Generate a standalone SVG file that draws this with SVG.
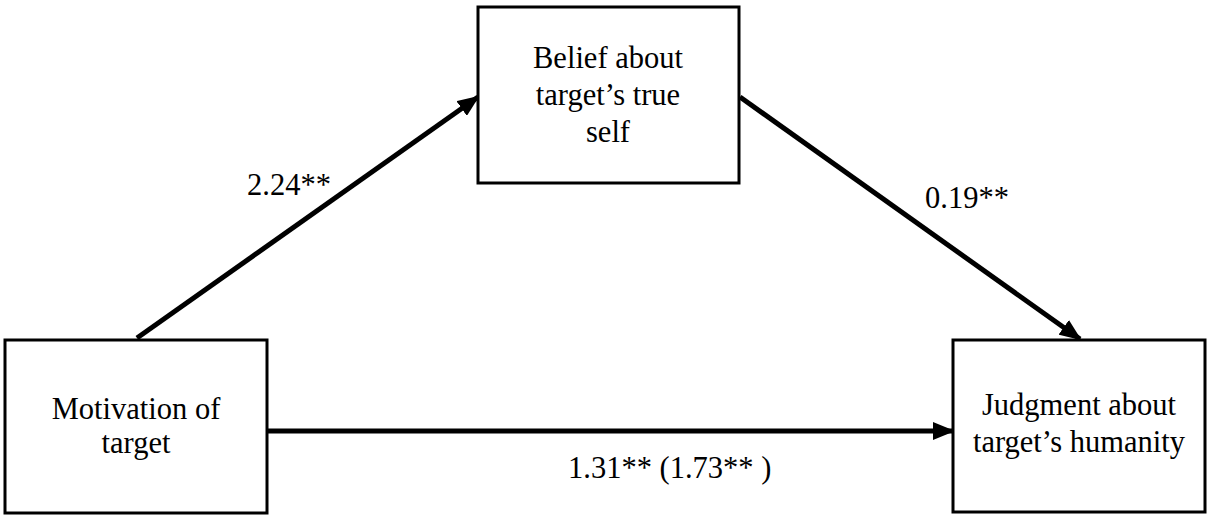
<svg xmlns="http://www.w3.org/2000/svg" width="1207" height="516" viewBox="0 0 1207 516">
<style>
.box{fill:#fff;stroke:#000;stroke-width:3}
.t{font-family:"Liberation Serif","Times New Roman",serif;font-size:30.5px;fill:#000}
.c{text-anchor:middle}
.edge{stroke:#000;stroke-width:5;fill:none}
</style>
<defs>
<marker id="ah" markerUnits="userSpaceOnUse" markerWidth="22" markerHeight="18" refX="20" refY="9" orient="auto">
<path d="M0,0 L22,9 L0,18 Z" fill="#000"/>
</marker>
</defs>
<rect width="1207" height="516" fill="#fff"/>
<g id="connectors">
<line class="edge" x1="137" y1="338" x2="478" y2="97" marker-end="url(#ah)"/>
<line class="edge" x1="740" y1="97" x2="1080" y2="339" marker-end="url(#ah)"/>
<line class="edge" x1="267" y1="431" x2="953" y2="431" marker-end="url(#ah)"/>
<text class="t" x="247" y="195">2.24**</text>
<text class="t" x="925" y="208">0.19**</text>
<text class="t" x="568" y="478">1.31** (1.73** )</text>
</g>
<g id="motivation">
<rect class="box" x="5" y="340" width="262" height="173"/>
<text class="t c" x="136" y="419">Motivation of</text>
<text class="t c" x="136" y="453">target</text>
</g>
<g id="belief">
<rect class="box" x="478" y="7" width="261" height="176"/>
<text class="t c" x="608" y="68">Belief about</text>
<text class="t c" x="608" y="105">target’s true</text>
<text class="t c" x="608" y="142">self</text>
</g>
<g id="judgment">
<rect class="box" x="953" y="340" width="252" height="172"/>
<text class="t c" x="1079" y="415">Judgment about</text>
<text class="t c" x="1079" y="452">target’s humanity</text>
</g>
</svg>
